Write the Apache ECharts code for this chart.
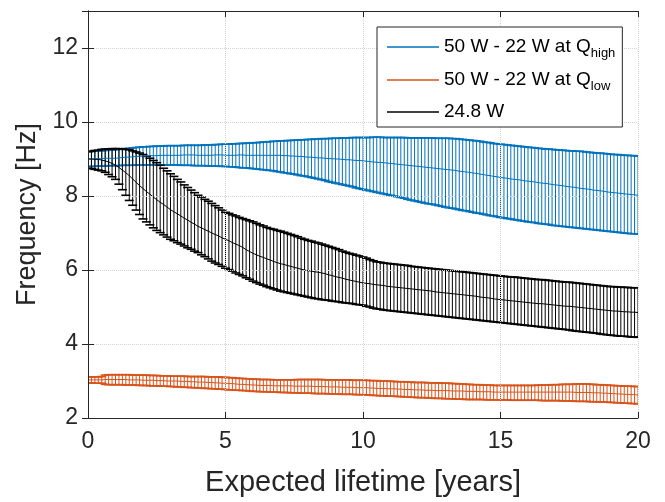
<!DOCTYPE html>
<html>
<head>
<meta charset="utf-8">
<script src="https://cdn.jsdelivr.net/npm/echarts@6/dist/echarts.min.js"></script>
<style>
html,body{margin:0;padding:0;background:#fff;}
#chart{width:665px;height:502px;}
</style>
</head>
<body>
<div id="chart"></div>
<script>
// ---- data (step = 1/8 year) ----
const years = Array.from({length: 161}, (_, i) => i / 8);
const xTicks = [0, 5, 10, 15, 20];
const yTicks = [2, 4, 6, 8, 10, 12];
const seriesNames = ['50 W - 22 W at Q_high', '50 W - 22 W at Q_low', '24.8 W'];

// 50 W - 22 W at Q_high : mean, upper, lower
const highMean = [
9.00,9.00,9.01,9.01,9.01,9.02,9.02,9.02,
9.02,9.03,9.04,9.05,9.05,9.06,9.07,9.07,
9.08,9.08,9.09,9.09,9.09,9.10,9.10,9.10,
9.10,9.10,9.10,9.10,9.11,9.11,9.11,9.11,
9.10,9.10,9.10,9.10,9.10,9.11,9.11,9.11,
9.10,9.10,9.10,9.10,9.11,9.11,9.10,9.10,
9.10,9.10,9.10,9.10,9.10,9.10,9.10,9.10,
9.10,9.09,9.09,9.08,9.08,9.07,9.07,9.06,
9.05,9.05,9.04,9.03,9.03,9.02,9.01,9.01,
9.00,9.00,8.99,8.98,8.98,8.97,8.96,8.96,
8.95,8.94,8.93,8.92,8.91,8.91,8.90,8.89,
8.88,8.87,8.86,8.85,8.84,8.83,8.82,8.81,
8.80,8.79,8.78,8.77,8.76,8.75,8.74,8.73,
8.72,8.71,8.70,8.69,8.67,8.66,8.65,8.64,
8.62,8.61,8.59,8.58,8.56,8.55,8.53,8.52,
8.50,8.49,8.48,8.46,8.45,8.44,8.43,8.41,
8.40,8.39,8.38,8.36,8.35,8.34,8.33,8.31,
8.30,8.29,8.28,8.26,8.25,8.24,8.23,8.21,
8.20,8.19,8.18,8.16,8.15,8.14,8.13,8.11,
8.10,8.09,8.08,8.07,8.06,8.05,8.04,8.03,
8.02];
const highUpper = [
9.20,9.20,9.21,9.22,9.22,9.23,9.24,9.24,
9.25,9.26,9.27,9.28,9.29,9.30,9.31,9.32,
9.33,9.33,9.34,9.34,9.35,9.35,9.35,9.36,
9.36,9.36,9.36,9.36,9.37,9.37,9.37,9.37,
9.37,9.37,9.38,9.38,9.38,9.39,9.39,9.40,
9.40,9.40,9.41,9.41,9.42,9.42,9.43,9.43,
9.44,9.44,9.45,9.46,9.46,9.47,9.48,9.48,
9.49,9.49,9.50,9.50,9.51,9.51,9.52,9.52,
9.53,9.53,9.54,9.54,9.55,9.55,9.55,9.56,
9.56,9.56,9.57,9.57,9.57,9.58,9.58,9.58,
9.58,9.58,9.58,9.59,9.59,9.59,9.58,9.58,
9.58,9.58,9.58,9.58,9.58,9.57,9.57,9.57,
9.57,9.57,9.57,9.57,9.57,9.56,9.56,9.56,
9.56,9.56,9.55,9.55,9.54,9.53,9.52,9.51,
9.50,9.49,9.48,9.46,9.45,9.44,9.42,9.41,
9.40,9.39,9.38,9.37,9.36,9.35,9.34,9.33,
9.32,9.31,9.30,9.29,9.28,9.27,9.27,9.26,
9.25,9.24,9.24,9.23,9.22,9.22,9.21,9.21,
9.20,9.19,9.18,9.17,9.16,9.16,9.15,9.14,
9.13,9.12,9.12,9.11,9.10,9.10,9.09,9.09,
9.08];
const highLower = [
8.80,8.80,8.80,8.81,8.81,8.81,8.82,8.82,
8.82,8.82,8.83,8.83,8.83,8.83,8.84,8.84,
8.84,8.84,8.84,8.84,8.84,8.84,8.84,8.84,
8.84,8.84,8.84,8.83,8.83,8.83,8.83,8.82,
8.82,8.82,8.82,8.81,8.81,8.81,8.81,8.80,
8.80,8.79,8.79,8.78,8.77,8.76,8.76,8.75,
8.74,8.73,8.72,8.71,8.70,8.69,8.68,8.66,
8.65,8.63,8.62,8.60,8.59,8.57,8.55,8.54,
8.52,8.50,8.48,8.46,8.44,8.42,8.39,8.37,
8.35,8.33,8.31,8.29,8.27,8.25,8.22,8.20,
8.18,8.16,8.14,8.12,8.10,8.08,8.06,8.04,
8.02,8.00,7.98,7.96,7.94,7.91,7.89,7.87,
7.85,7.83,7.81,7.79,7.78,7.76,7.74,7.72,
7.70,7.68,7.67,7.65,7.63,7.61,7.60,7.58,
7.56,7.54,7.53,7.51,7.49,7.47,7.46,7.44,
7.42,7.41,7.39,7.38,7.36,7.35,7.33,7.32,
7.30,7.29,7.28,7.26,7.25,7.24,7.23,7.21,
7.20,7.19,7.18,7.17,7.16,7.15,7.14,7.13,
7.12,7.11,7.10,7.09,7.08,7.07,7.06,7.05,
7.04,7.03,7.02,7.01,7.00,6.99,6.98,6.98,
6.97];

// 50 W - 22 W at Q_low : mean, upper, lower
const lowMean = [
3.03,3.03,3.03,3.03,3.03,3.04,3.04,3.04,
3.04,3.04,3.04,3.04,3.03,3.03,3.03,3.03,
3.02,3.02,3.02,3.02,3.01,3.01,3.01,3.00,
3.00,3.00,3.00,2.99,2.99,2.99,2.98,2.98,
2.97,2.97,2.97,2.96,2.96,2.95,2.95,2.94,
2.94,2.93,2.93,2.92,2.91,2.91,2.90,2.90,
2.89,2.89,2.88,2.88,2.88,2.88,2.87,2.87,
2.87,2.87,2.87,2.87,2.86,2.86,2.86,2.86,
2.86,2.86,2.85,2.85,2.85,2.85,2.84,2.84,
2.84,2.84,2.83,2.83,2.83,2.83,2.82,2.82,
2.82,2.82,2.81,2.81,2.80,2.80,2.80,2.79,
2.79,2.79,2.78,2.78,2.77,2.77,2.77,2.76,
2.76,2.76,2.75,2.75,2.75,2.74,2.74,2.74,
2.74,2.74,2.73,2.73,2.73,2.73,2.72,2.72,
2.72,2.72,2.71,2.71,2.71,2.71,2.70,2.70,
2.70,2.70,2.70,2.70,2.70,2.70,2.70,2.70,
2.70,2.70,2.70,2.70,2.70,2.70,2.70,2.70,
2.70,2.70,2.70,2.70,2.70,2.70,2.69,2.69,
2.69,2.69,2.69,2.68,2.68,2.68,2.67,2.67,
2.66,2.66,2.65,2.65,2.64,2.64,2.63,2.63,
2.62];
const lowUpper = [
3.11,3.11,3.11,3.11,3.12,3.16,3.17,3.17,
3.17,3.17,3.17,3.17,3.17,3.16,3.16,3.16,
3.16,3.16,3.15,3.15,3.15,3.14,3.14,3.14,
3.13,3.13,3.13,3.13,3.13,3.12,3.12,3.12,
3.12,3.12,3.12,3.11,3.11,3.11,3.11,3.10,
3.10,3.09,3.09,3.08,3.07,3.07,3.06,3.06,
3.05,3.05,3.04,3.04,3.04,3.04,3.03,3.03,
3.03,3.03,3.03,3.03,3.03,3.04,3.04,3.04,
3.04,3.04,3.04,3.04,3.04,3.03,3.03,3.03,
3.03,3.03,3.03,3.03,3.03,3.02,3.02,3.02,
3.02,3.02,3.01,3.01,3.01,3.00,3.00,3.00,
2.99,2.99,2.98,2.98,2.98,2.97,2.97,2.96,
2.96,2.96,2.96,2.95,2.95,2.95,2.95,2.94,
2.94,2.94,2.93,2.93,2.92,2.92,2.91,2.91,
2.90,2.90,2.90,2.89,2.89,2.89,2.88,2.88,
2.88,2.88,2.88,2.88,2.88,2.88,2.88,2.88,
2.88,2.88,2.88,2.89,2.89,2.89,2.89,2.90,
2.90,2.90,2.91,2.91,2.91,2.91,2.92,2.92,
2.92,2.92,2.91,2.91,2.90,2.90,2.89,2.89,
2.88,2.88,2.87,2.87,2.86,2.86,2.86,2.85,
2.85];
const lowLower = [
2.95,2.95,2.94,2.94,2.94,2.91,2.90,2.90,
2.90,2.90,2.90,2.89,2.89,2.89,2.89,2.88,
2.88,2.88,2.87,2.87,2.87,2.86,2.86,2.86,
2.85,2.85,2.84,2.84,2.83,2.83,2.82,2.82,
2.81,2.81,2.80,2.80,2.79,2.79,2.78,2.78,
2.77,2.76,2.76,2.75,2.75,2.74,2.74,2.73,
2.72,2.72,2.71,2.71,2.71,2.70,2.70,2.70,
2.69,2.69,2.69,2.68,2.68,2.68,2.67,2.67,
2.67,2.67,2.66,2.66,2.66,2.66,2.65,2.65,
2.65,2.65,2.64,2.64,2.64,2.64,2.63,2.63,
2.63,2.62,2.62,2.61,2.61,2.60,2.60,2.59,
2.59,2.59,2.58,2.58,2.57,2.57,2.56,2.56,
2.55,2.55,2.55,2.54,2.54,2.53,2.53,2.53,
2.52,2.52,2.52,2.51,2.51,2.51,2.50,2.50,
2.50,2.50,2.50,2.50,2.49,2.49,2.49,2.49,
2.49,2.49,2.49,2.48,2.48,2.48,2.48,2.48,
2.48,2.48,2.48,2.48,2.47,2.47,2.47,2.47,
2.47,2.47,2.46,2.46,2.46,2.46,2.45,2.45,
2.45,2.45,2.44,2.44,2.44,2.43,2.43,2.43,
2.42,2.42,2.41,2.41,2.40,2.40,2.39,2.39,
2.38];

// 24.8 W : mean, upper, lower
const fixMean = [
9.00,9.00,8.99,8.99,8.97,8.95,8.92,8.88,
8.83,8.77,8.70,8.63,8.55,8.46,8.37,8.28,
8.20,8.12,8.05,7.97,7.90,7.83,7.77,7.70,
7.63,7.57,7.52,7.46,7.40,7.35,7.29,7.24,
7.18,7.14,7.09,7.05,7.00,6.96,6.92,6.87,
6.83,6.79,6.74,6.70,6.66,6.61,6.55,6.50,
6.45,6.41,6.37,6.34,6.30,6.27,6.23,6.20,
6.17,6.15,6.12,6.10,6.07,6.05,6.02,6.00,
5.98,5.97,5.95,5.94,5.92,5.90,5.87,5.85,
5.82,5.80,5.78,5.75,5.73,5.71,5.69,5.67,
5.65,5.64,5.63,5.61,5.60,5.59,5.58,5.56,
5.55,5.54,5.53,5.52,5.51,5.50,5.49,5.48,
5.47,5.46,5.45,5.44,5.43,5.41,5.40,5.39,
5.38,5.37,5.36,5.35,5.34,5.33,5.32,5.31,
5.30,5.29,5.27,5.26,5.25,5.24,5.22,5.21,
5.20,5.19,5.18,5.17,5.16,5.15,5.14,5.13,
5.12,5.11,5.10,5.09,5.09,5.08,5.07,5.06,
5.05,5.04,5.03,5.02,5.02,5.01,5.00,4.99,
4.98,4.97,4.96,4.95,4.94,4.93,4.92,4.91,
4.90,4.89,4.89,4.88,4.87,4.87,4.86,4.86,
4.85];
const fixUpper = [
9.20,9.21,9.23,9.24,9.26,9.27,9.27,9.28,
9.28,9.28,9.27,9.26,9.25,9.22,9.19,9.16,
9.12,9.07,9.02,8.96,8.90,8.83,8.75,8.68,
8.60,8.53,8.45,8.38,8.30,8.23,8.16,8.09,
8.02,7.97,7.91,7.86,7.80,7.74,7.68,7.62,
7.56,7.53,7.49,7.46,7.42,7.39,7.36,7.33,
7.30,7.26,7.22,7.19,7.15,7.12,7.10,7.07,
7.05,7.02,6.99,6.96,6.93,6.90,6.86,6.83,
6.80,6.78,6.75,6.73,6.70,6.67,6.64,6.61,
6.58,6.55,6.51,6.48,6.45,6.43,6.40,6.38,
6.35,6.32,6.28,6.25,6.22,6.21,6.19,6.18,
6.17,6.16,6.15,6.14,6.13,6.12,6.10,6.09,
6.08,6.07,6.06,6.05,6.04,6.03,6.02,6.01,
6.00,5.99,5.98,5.97,5.96,5.95,5.94,5.93,
5.92,5.91,5.90,5.89,5.88,5.87,5.86,5.85,
5.84,5.83,5.82,5.81,5.81,5.80,5.79,5.78,
5.77,5.76,5.75,5.74,5.74,5.73,5.72,5.71,
5.70,5.69,5.68,5.67,5.67,5.66,5.65,5.64,
5.63,5.62,5.61,5.60,5.59,5.58,5.57,5.56,
5.55,5.55,5.54,5.54,5.53,5.53,5.52,5.52,
5.52];
const fixLower = [
8.75,8.74,8.72,8.70,8.68,8.64,8.58,8.52,
8.45,8.32,8.17,8.02,7.88,7.75,7.62,7.50,
7.38,7.30,7.22,7.14,7.07,7.01,6.95,6.89,
6.83,6.79,6.74,6.70,6.65,6.60,6.56,6.51,
6.47,6.41,6.36,6.30,6.24,6.19,6.15,6.10,
6.05,6.01,5.97,5.92,5.88,5.84,5.79,5.75,
5.70,5.66,5.62,5.59,5.55,5.52,5.49,5.46,
5.43,5.41,5.39,5.37,5.35,5.33,5.31,5.29,
5.27,5.25,5.23,5.22,5.20,5.19,5.18,5.16,
5.15,5.14,5.12,5.11,5.10,5.09,5.07,5.06,
5.05,5.02,5.00,4.97,4.95,4.94,4.92,4.91,
4.90,4.89,4.88,4.87,4.86,4.85,4.84,4.83,
4.82,4.81,4.80,4.79,4.78,4.77,4.76,4.75,
4.74,4.73,4.72,4.71,4.70,4.69,4.68,4.67,
4.66,4.65,4.64,4.63,4.62,4.61,4.60,4.59,
4.58,4.57,4.56,4.55,4.54,4.53,4.52,4.51,
4.50,4.49,4.48,4.47,4.46,4.45,4.44,4.43,
4.42,4.41,4.40,4.39,4.38,4.36,4.35,4.34,
4.33,4.32,4.31,4.30,4.29,4.27,4.26,4.25,
4.24,4.23,4.22,4.21,4.21,4.20,4.19,4.19,
4.18];

// ---- styling ----
const FONT = '"Liberation Sans", Arial, Helvetica, sans-serif';
const AXC = '#262626';
const COLORS = ['#0072BD', '#D95319', '#000000'];
const CAP = 4.5;

function errRender(color) {
  return function (params, api) {
    const x = api.value(0), lo = api.value(1), hi = api.value(2);
    const a = api.coord([x, lo]), b = api.coord([x, hi]);
    const st = {stroke: color, lineWidth: 1, fill: null};
    const cst = {stroke: color, lineWidth: 1.6, fill: null};
    return {
      type: 'group',
      children: [
        {type: 'line', shape: {x1: a[0], y1: a[1], x2: b[0], y2: b[1]}, style: st},
        {type: 'line', shape: {x1: a[0] - CAP, y1: a[1], x2: a[0] + CAP, y2: a[1]}, style: cst},
        {type: 'line', shape: {x1: b[0] - CAP, y1: b[1], x2: b[0] + CAP, y2: b[1]}, style: cst}
      ]
    };
  };
}

const groups = [
  {mean: highMean, up: highUpper, lo: highLower},
  {mean: lowMean, up: lowUpper, lo: lowLower},
  {mean: fixMean, up: fixUpper, lo: fixLower}
];

const series = [];
groups.forEach((g, k) => {
  series.push({
    name: 'bars' + k,
    type: 'custom',
    renderItem: errRender(COLORS[k]),
    data: years.map((x, i) => [x, g.lo[i], g.up[i]]),
    encode: {x: 0, y: [1, 2]},
    clip: true,
    silent: true,
    z: 2
  });
  series.push({
    name: seriesNames[k],
    type: 'line',
    data: years.map((x, i) => [x, g.mean[i]]),
    showSymbol: false,
    symbol: 'none',
    lineStyle: {color: COLORS[k], width: 1},
    itemStyle: {color: COLORS[k]},
    clip: true,
    silent: true,
    z: 2
  });
});

const axisCommon = {
  axisLine: {show: true, lineStyle: {color: AXC, width: 1}},
  axisTick: {show: true, inside: true, length: 6, lineStyle: {color: AXC, width: 1}},
  z: 3
};

const option = {
  animation: false,
  backgroundColor: '#ffffff',
  grid: {left: 88, right: 27, top: 11, bottom: 82, containLabel: false},
  legend: {
    data: seriesNames,
    orient: 'vertical',
    left: 377,
    top: 27,
    icon: 'rect',
    itemWidth: 52,
    itemHeight: 1.5,
    itemGap: 7,
    padding: [7, 7, 3, 10],
    borderColor: AXC,
    borderWidth: 1,
    backgroundColor: '#ffffff',
    selectedMode: false,
    formatter: function (name) { return name.replace(/_(\w+)$/, '{sub|$1}'); },
    textStyle: {
      fontFamily: FONT, fontSize: 19, color: '#000', lineHeight: 24,
      rich: {
        sub: {fontFamily: FONT, fontSize: 13, color: '#000', lineHeight: 13, padding: [13, 0, 0, 0]}
      }
    }
  },
  xAxis: [
    Object.assign({}, axisCommon, {
      type: 'value', position: 'bottom',
      min: xTicks[0], max: xTicks[xTicks.length - 1], interval: xTicks[1] - xTicks[0],
      axisLabel: {fontFamily: FONT, fontSize: 23, color: AXC, margin: 12},
      splitLine: {show: true, lineStyle: {type: 'dotted', color: '#d2d2d2', width: 1}},
      name: 'Expected lifetime [years]', nameLocation: 'middle', nameGap: 50,
      nameTextStyle: {fontFamily: FONT, fontSize: 29, color: AXC}
    }),
    Object.assign({}, axisCommon, {
      type: 'value', position: 'top',
      min: xTicks[0], max: xTicks[xTicks.length - 1], interval: xTicks[1] - xTicks[0],
      axisLabel: {show: false}, splitLine: {show: false}
    })
  ],
  yAxis: [
    Object.assign({}, axisCommon, {
      type: 'value', position: 'left',
      min: yTicks[0], max: 13, interval: yTicks[1] - yTicks[0],
      axisLabel: {fontFamily: FONT, fontSize: 23, color: AXC, margin: 10, showMaxLabel: false},
      splitLine: {show: true, lineStyle: {type: 'dotted', color: '#d2d2d2', width: 1}},
      name: 'Frequency [Hz]', nameLocation: 'middle', nameGap: 44,
      nameTextStyle: {fontFamily: FONT, fontSize: 27, color: AXC}
    }),
    Object.assign({}, axisCommon, {
      type: 'value', position: 'right',
      min: yTicks[0], max: 13, interval: yTicks[1] - yTicks[0],
      axisLabel: {show: false}, splitLine: {show: false}
    })
  ],
  series: series
};

const chart = echarts.init(document.getElementById('chart'), null, {renderer: 'canvas'});
chart.setOption(option);
</script>
</body>
</html>
